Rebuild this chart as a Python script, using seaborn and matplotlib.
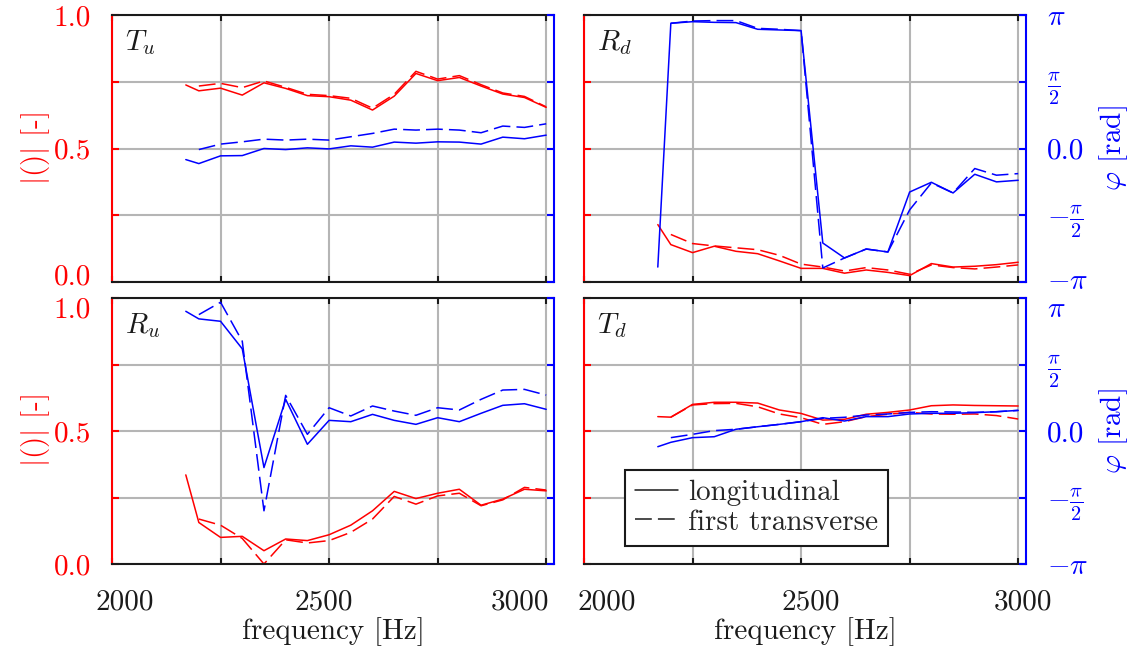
import numpy as np
import matplotlib
matplotlib.use("Agg")
import matplotlib.pyplot as plt
import seaborn as sns
from matplotlib.lines import Line2D
from matplotlib.ticker import MultipleLocator, FixedLocator, FixedFormatter, NullFormatter
from matplotlib.transforms import ScaledTranslation

# ---------------- data ----------------
freq_long = [2170, 2200, 2250, 2300, 2350, 2400, 2450, 2500, 2550, 2600,
             2650, 2700, 2750, 2800, 2850, 2900, 2950, 3000]
freq_trans = [2200, 2250, 2300, 2350, 2400, 2450, 2500, 2550, 2600,
              2650, 2700, 2750, 2800, 2850, 2900, 2950, 3000]

# magnitudes |()| [-] ; phases given in multiples of pi
Tu_mag_long = [0.738, 0.716, 0.726, 0.700, 0.746, 0.725, 0.698, 0.694, 0.681, 0.644,
               0.696, 0.781, 0.754, 0.766, 0.734, 0.704, 0.691, 0.654]
Tu_mag_trans = [0.734, 0.744, 0.728, 0.753, 0.729, 0.703, 0.698, 0.688, 0.651,
                0.703, 0.789, 0.760, 0.773, 0.739, 0.708, 0.695, 0.656]
Tu_ph_long = [-0.083, -0.113, -0.055, -0.053, 0.000, -0.008, 0.005, -0.003, 0.020, 0.010,
              0.048, 0.040, 0.050, 0.048, 0.033, 0.085, 0.073, 0.100]
Tu_ph_trans = [-0.008, 0.033, 0.050, 0.070, 0.063, 0.070, 0.063, 0.088, 0.113,
               0.145, 0.138, 0.145, 0.138, 0.118, 0.168, 0.158, 0.185]

Rd_mag_long = [0.215, 0.140, 0.110, 0.134, 0.115, 0.106, 0.079, 0.051, 0.051, 0.033,
               0.045, 0.036, 0.024, 0.069, 0.056, 0.059, 0.065, 0.074]
Rd_mag_trans = [0.178, 0.144, 0.135, 0.128, 0.121, 0.100, 0.067, 0.056, 0.041,
                0.054, 0.045, 0.029, 0.064, 0.054, 0.049, 0.056, 0.064]
Rd_ph_long = [-0.888, 0.938, 0.950, 0.945, 0.943, 0.893, 0.888, 0.883, -0.708, -0.820,
              -0.753, -0.775, -0.326, -0.253, -0.333, -0.193, -0.250, -0.238]
Rd_ph_trans = [0.938, 0.955, 0.958, 0.958, 0.900, 0.893, 0.883, -0.895, -0.820,
               -0.753, -0.775, -0.460, -0.258, -0.333, -0.150, -0.200, -0.188]

Ru_mag_long = [0.335, 0.156, 0.100, 0.104, 0.050, 0.094, 0.088, 0.110, 0.146, 0.200,
               0.273, 0.246, 0.266, 0.281, 0.221, 0.244, 0.281, 0.275]
Ru_mag_trans = [0.169, 0.146, 0.096, 0.000, 0.091, 0.079, 0.088, 0.119, 0.169,
                0.254, 0.225, 0.256, 0.266, 0.219, 0.241, 0.288, 0.278]
Ru_ph_long = [0.900, 0.843, 0.825, 0.618, -0.275, 0.238, -0.100, 0.080, 0.070, 0.125,
              0.080, 0.050, 0.100, 0.070, 0.133, 0.193, 0.205, 0.163]
Ru_ph_trans = [0.875, 0.968, 0.675, -0.600, 0.268, -0.025, 0.175, 0.113, 0.188,
               0.150, 0.118, 0.175, 0.158, 0.238, 0.308, 0.313, 0.270]

Td_mag_long = [0.554, 0.552, 0.600, 0.608, 0.608, 0.605, 0.579, 0.566, 0.541, 0.544,
               0.563, 0.570, 0.579, 0.595, 0.598, 0.596, 0.595, 0.594]
Td_mag_trans = [0.552, 0.598, 0.603, 0.604, 0.591, 0.564, 0.550, 0.525, 0.535,
                0.554, 0.563, 0.570, 0.564, 0.563, 0.564, 0.558, 0.545]
Td_ph_long = [-0.118, -0.085, -0.050, -0.043, 0.013, 0.032, 0.050, 0.070, 0.100, 0.075,
              0.108, 0.108, 0.128, 0.133, 0.133, 0.138, 0.145, 0.155]
Td_ph_trans = [-0.050, -0.025, 0.003, 0.013, 0.032, 0.050, 0.070, 0.095, 0.103,
               0.120, 0.128, 0.140, 0.145, 0.143, 0.140, 0.145, 0.155]

panel_names = [r"$T_u$", r"$R_d$", r"$R_u$", r"$T_d$"]
xtick_text = ["2000", "2500", "3000"]
mag_ticks = [0.0, 0.25, 0.5, 0.75, 1.0]
mag_tick_text = ["0.0", "", "0.5", "", "1.0"]
ph_tick_text = [r"$-\pi$", r"$-\frac{\pi}{2}$", "0.0", r"$\frac{\pi}{2}$", r"$\pi$"]
legend_labels = ["longitudinal", "first transverse"]

# ---------------- style ----------------
sns.set_theme(style="white")
plt.rcParams.update({
    "font.family": ["cmr10"],
    "mathtext.fontset": "cm",
    "axes.formatter.use_mathtext": True,
    "axes.unicode_minus": False,
})

RED = "#ff0000"
BLUE = "#0000ff"
LW = 1.1
DASH = (0, (11, 4))
FS = 21

fig = plt.figure(figsize=(11.4, 6.49), dpi=100)
W, H = 1140.0, 649.0
lefts = [112 / W, 584 / W]
width = 442 / W
rows = [(1 - 282 / H, 267 / H), (1 - 564 / H, 266 / H)]
# visual placement of the x tick labels (as seen in the reference)
xlabel_pos = [[2030, 2488, 2940], [2053, 2523, 3012]]


def shift(label, dy_px):
    label.set_transform(label.get_transform()
                        + ScaledTranslation(0, dy_px / 100.0, fig.dpi_scale_trans))


data = [
    (Tu_mag_long, Tu_mag_trans, Tu_ph_long, Tu_ph_trans),
    (Rd_mag_long, Rd_mag_trans, Rd_ph_long, Rd_ph_trans),
    (Ru_mag_long, Ru_mag_trans, Ru_ph_long, Ru_ph_trans),
    (Td_mag_long, Td_mag_trans, Td_ph_long, Td_ph_trans),
]

for i, (ml, mt, pl, pt) in enumerate(data):
    r, c = divmod(i, 2)
    b, h = rows[r]
    ax = fig.add_axes([lefts[c], b, width, h])
    ax2 = ax.twinx()

    sns.lineplot(x=freq_long, y=ml, ax=ax, color=RED, lw=LW, estimator=None, sort=False)
    sns.lineplot(x=freq_trans, y=mt, ax=ax, color=RED, lw=LW, ls=DASH, estimator=None, sort=False)
    sns.lineplot(x=freq_long, y=np.pi * np.array(pl), ax=ax2, color=BLUE, lw=LW,
                 estimator=None, sort=False)
    sns.lineplot(x=freq_trans, y=np.pi * np.array(pt), ax=ax2, color=BLUE, lw=LW, ls=DASH,
                 estimator=None, sort=False)

    ax.set_xlim(2000, 3018)
    ax.set_ylim(0, 1)
    ax2.set_ylim(-np.pi, np.pi)

    # x axis: grid/ticks every 250 Hz, labels as minor ticks
    ax.xaxis.set_major_locator(MultipleLocator(250))
    ax.xaxis.set_major_formatter(NullFormatter())
    ax.xaxis.set_minor_locator(FixedLocator(xlabel_pos[c]))
    ax.xaxis.set_minor_formatter(FixedFormatter(xtick_text))
    ax.tick_params(axis="x", which="major", direction="in", length=4, width=1.5,
                   top=True, bottom=True, color="k")
    ax.tick_params(axis="x", which="minor", length=0, top=False, bottom=True,
                   labelbottom=(r == 1), labelsize=FS, pad=18, labelcolor="k")

    ax.yaxis.set_major_locator(FixedLocator(mag_ticks))
    ax.yaxis.set_major_formatter(FixedFormatter(mag_tick_text))
    ax.tick_params(axis="y", which="major", direction="in", length=5, width=1.5,
                   color=RED, labelcolor=RED, left=True, right=False,
                   labelleft=(c == 0), labelsize=FS, pad=15)

    ax2.yaxis.set_major_locator(FixedLocator([-np.pi, -np.pi / 2, 0, np.pi / 2, np.pi]))
    ax2.yaxis.set_major_formatter(FixedFormatter(ph_tick_text))
    ax2.tick_params(axis="y", which="major", direction="in", length=5, width=1.5,
                    color=BLUE, labelcolor=BLUE, right=True, left=False,
                    labelright=(c == 1), labelsize=FS, pad=15)

    ax.grid(True, which="major", color="#b5b5b5", lw=1.5)
    ax2.grid(False)
    ax.set_axisbelow(True)

    for s in ["top", "bottom"]:
        ax.spines[s].set_color("k")
        ax.spines[s].set_linewidth(1.5)
        ax2.spines[s].set_visible(False)
    ax.spines["left"].set_color(RED)
    ax.spines["left"].set_linewidth(1.5)
    ax.spines["right"].set_visible(False)
    ax2.spines["left"].set_visible(False)
    ax2.spines["right"].set_color(BLUE)
    ax2.spines["right"].set_linewidth(1.5)

    ax.set_xlabel("")
    ax.set_ylabel("")
    ax2.set_ylabel("")
    if c == 0:
        ax.set_ylabel(r"$|()|$ [-]", color=RED, fontsize=FS)
        ax.yaxis.set_label_coords(-0.135, 0.5)
    else:
        ax2.set_ylabel(r"$\varphi$ [rad]", color=BLUE, fontsize=FS)
        ax2.yaxis.set_label_coords(1.16, 0.5)
    if r == 1:
        ax.set_xlabel("frequency [Hz]", fontsize=FS, color="k")
        ax.xaxis.set_label_coords(0.5, -0.2)

    # keep end labels of stacked panels apart, as in the reference
    lab1 = ax.yaxis.get_majorticklabels()
    lab2 = ax2.yaxis.get_majorticklabels()
    if r == 0:
        if c == 0 and len(lab1) == 5:
            shift(lab1[0], 8)
        if c == 1 and len(lab2) == 5:
            shift(lab2[0], 3)
    else:
        if c == 0 and len(lab1) == 5:
            shift(lab1[4], -9)
        if c == 1 and len(lab2) == 5:
            shift(lab2[4], -9)

    ax2.text(0.03, 0.95, panel_names[i], transform=ax.transAxes, fontsize=FS,
             ha="left", va="top", color="k")

    if i == 3:
        handles = [Line2D([], [], color="k", lw=LW),
                   Line2D([], [], color="k", lw=LW, ls=DASH)]
        leg = ax2.legend(handles, legend_labels, loc="lower left",
                         bbox_to_anchor=(0.093, 0.068), borderaxespad=0,
                         fancybox=False, edgecolor="k", framealpha=1, fontsize=FS,
                         handlelength=1.45, handletextpad=0.35, labelspacing=0.1,
                         borderpad=0.35)
        leg.get_frame().set_linewidth(1.5)

fig.savefig("out.png", dpi=100)
